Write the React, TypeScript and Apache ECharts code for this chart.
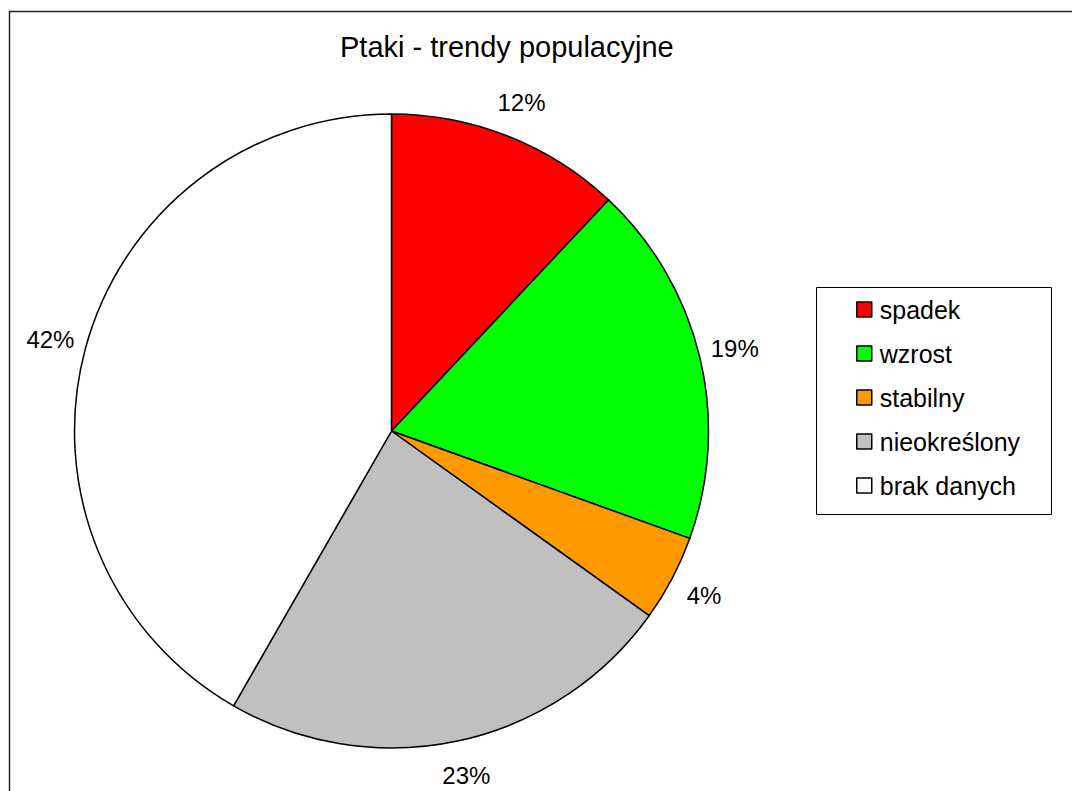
import React, { useEffect, useRef } from "react";
import * as echarts from "echarts";

const titleText = "Ptaki - trendy populacyjne";
const categories = ["spadek", "wzrost", "stabilny", "nieokreślony", "brak danych"];
const values = [12.0, 18.5, 4.4, 23.4, 41.7];
const colors = ["#FF0000", "#00FF00", "#FF9900", "#C0C0C0", "#FFFFFF"];

const FONT = "'Liberation Sans', Arial, Helvetica, sans-serif";

export default function App() {
  const ref = useRef<HTMLDivElement>(null);
  useEffect(() => {
    if (!ref.current) return;
    const chart = echarts.init(ref.current, null, { renderer: "svg" });
    const data = categories.map((name, i) => ({
      name,
      value: values[i],
      itemStyle: { color: colors[i] },
    }));
    chart.setOption({
      animation: false,
      backgroundColor: "#ffffff",
      textStyle: { fontFamily: FONT },
      title: {
        text: titleText,
        left: 340,
        top: 32,
        padding: 0,
        textStyle: { fontSize: 29, fontWeight: "normal", color: "#000", fontFamily: FONT },
      },
      graphic: [
        {
          type: "rect",
          shape: { x: 9.5, y: 11.5, width: 1300, height: 1000 },
          style: { fill: "none", stroke: "#222", lineWidth: 1.5 },
          silent: true,
          z: 0,
        },
        {
          type: "rect",
          shape: { x: 816.5, y: 287.5, width: 235, height: 227 },
          style: { fill: "#fff", stroke: "#000", lineWidth: 1 },
          silent: true,
          z: 1,
        },
      ],
      legend: {
        orient: "vertical",
        left: 856,
        top: 297,
        padding: 0,
        icon: "rect",
        itemWidth: 15,
        itemHeight: 15,
        itemGap: 19,
        z: 5,
        selectedMode: false,
        data: categories.map((name, i) => ({
          name,
          itemStyle: { color: colors[i], borderColor: "#000", borderWidth: 1.5 },
        })),
        textStyle: {
          fontSize: 25,
          color: "#000",
          fontFamily: FONT,
          padding: [0, 0, 0, 3],
        },
      },
      series: [
        {
          type: "pie",
          center: [391.5, 431],
          radius: [0, 317],
          startAngle: 90,
          clockwise: true,
          avoidLabelOverlap: false,
          label: { show: false },
          labelLine: { show: false },
          itemStyle: { borderColor: "#000", borderWidth: 1.5 },
          emphasis: { disabled: true },
          data,
        },
        {
          type: "pie",
          center: [391.5, 431],
          radius: [330, 370],
          startAngle: 90,
          clockwise: true,
          silent: true,
          avoidLabelOverlap: false,
          percentPrecision: 0,
          itemStyle: { color: "rgba(0,0,0,0)", borderWidth: 0 },
          label: {
            show: true,
            position: "inside",
            rotate: 0,
            formatter: "{d}%",
            fontSize: 24,
            color: "#000",
            fontFamily: FONT,
          },
          labelLine: { show: false },
          emphasis: { disabled: true },
          data: categories.map((name, i) => ({ name, value: values[i] })),
        },
      ],
    });
    return () => chart.dispose();
  }, []);
  return (
    <div
      ref={ref}
      style={{ position: "absolute", left: 0, top: 0, width: 1072, height: 791 }}
    />
  );
}
